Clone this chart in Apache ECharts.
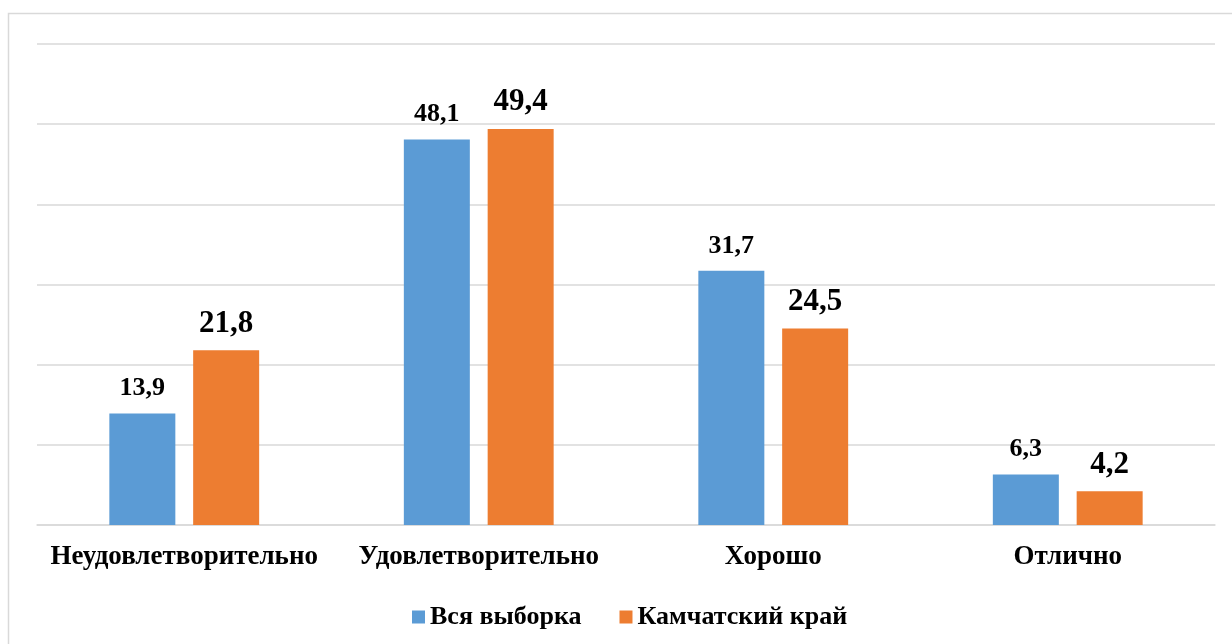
<!DOCTYPE html>
<html>
<head>
<meta charset="utf-8">
<script src="https://cdn.jsdelivr.net/npm/echarts@6/dist/echarts.min.js"></script>
<style>
    html, body { margin: 0; padding: 0; background: #fff; }
    #chart { width: 1232px; height: 644px; }
</style>
</head>
<body>
<div id="chart"></div>
<script>
// категории и значения (%)
const categories = ["Неудовлетворительно", "Удовлетворительно", "Хорошо", "Отлично"];
const seriesNames = ["Вся выборка", "Камчатский край"];
const allSample = [13.9, 48.1, 31.7, 6.3];
const kamchatka = [21.8, 49.4, 24.5, 4.2];

const fontSerif = "'Liberation Serif', 'Times New Roman', serif";
const fmt = p => String(p.value).replace(".", ",");

let chart = echarts.init(document.getElementById("chart"));
chart.setOption({
    animation: false,
    graphic: [
        {
            type: "rect",
            shape: { x: 8.5, y: 13.5, width: 1400, height: 800 },
            style: { fill: "none", stroke: "#d9d9d9", lineWidth: 1.5 },
            silent: true,
        },
    ],
    legend: {
        left: 407,
        top: 599,
        itemWidth: 13,
        itemHeight: 13,
        itemGap: 38,
        icon: "rect",
        textStyle: { fontFamily: fontSerif, fontWeight: "bold", fontSize: 26, color: "#000" },
        data: seriesNames,
    },
    grid: { left: 37, right: 17, top: 44, bottom: 119, containLabel: false },
    xAxis: {
        type: "category",
        data: categories,
        axisLine: { lineStyle: { color: "#d9d9d9", width: 1.5 } },
        axisTick: { show: false },
        axisLabel: {
            interval: 0,
            margin: 19,
            fontFamily: fontSerif,
            fontWeight: "bold",
            fontSize: 27,
            color: "#000",
        },
    },
    yAxis: {
        type: "value",
        min: 0,
        max: 60,
        interval: 10,
        axisLabel: { show: false },
        axisLine: { show: false },
        axisTick: { show: false },
        splitLine: { lineStyle: { color: "#d9d9d9", width: 1.5 } },
    },
    series: [
        {
            name: seriesNames[0],
            type: "bar",
            data: allSample,
            barWidth: 66,
            barGap: "27%",
            itemStyle: { color: "#5b9bd5" },
            label: {
                show: true,
                position: "top",
                distance: 12,
                formatter: fmt,
                fontFamily: fontSerif,
                fontWeight: "bold",
                fontSize: 26,
                color: "#000",
            },
        },
        {
            name: seriesNames[1],
            type: "bar",
            data: kamchatka,
            barWidth: 66,
            itemStyle: { color: "#ed7d31" },
            label: {
                show: true,
                position: "top",
                distance: 11,
                formatter: fmt,
                fontFamily: fontSerif,
                fontWeight: "bold",
                fontSize: 31,
                color: "#000",
            },
        },
    ],
});
</script>
</body>
</html>
